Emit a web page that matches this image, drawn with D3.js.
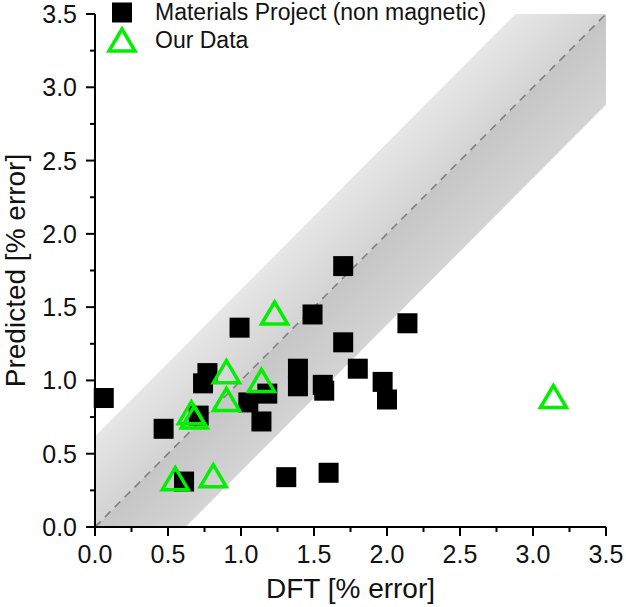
<!DOCTYPE html>
<html><head><meta charset="utf-8">
<script src="https://cdn.jsdelivr.net/npm/d3@7"></script>
<style>body{margin:0;background:#fff}svg{display:block}text{font-family:Arial,"Liberation Sans",sans-serif;fill:#111}</style>
</head><body>
<script>
const mpX = [0.06,0.47,0.61,0.71,0.74,0.77,0.99,1.05,1.18,1.14,1.31,1.39,1.39,1.49,1.56,1.57,1.60,1.70,1.70,1.80,1.97,2.00,2.14];
const mpY = [0.88,0.67,0.31,0.76,0.98,1.05,1.36,0.85,0.91,0.72,0.34,1.08,0.96,1.45,0.97,0.93,0.37,1.78,1.26,1.08,0.99,0.87,1.39];
const ourX = [1.23,0.90,1.14,0.90,0.66,0.68,0.55,0.81,3.14];
const ourY = [1.46,1.06,1.00,0.87,0.78,0.75,0.33,0.35,0.89];
const tickVals = [0,0.5,1.0,1.5,2.0,2.5,3.0,3.5];
const minorVals = [0.25,0.75,1.25,1.75,2.25,2.75,3.25];
const bandHalf = 0.62;
const seriesNames = ["Materials Project (non magnetic)","Our Data"];

const W=626,H=607, L=95,R=606,T=14,B=527;
const svg=d3.select("body").append("svg").attr("width",W).attr("height",H);
const x=d3.scaleLinear().domain([0,3.5]).range([L,R]);
const y=d3.scaleLinear().domain([0,3.5]).range([B,T]);
const defs=svg.append("defs");
defs.append("clipPath").attr("id","clip").append("rect").attr("x",L).attr("y",T).attr("width",R-L).attr("height",B-T);

const gU=defs.append("linearGradient").attr("id","gU").attr("gradientUnits","userSpaceOnUse")
  .attr("x1",x(0)).attr("y1",y(bandHalf)).attr("x2",x(bandHalf/2)).attr("y2",y(bandHalf/2));
gU.append("stop").attr("offset",0).attr("stop-color","#e6e6e6");
gU.append("stop").attr("offset",1).attr("stop-color","#d3d3d3");
const gD=defs.append("linearGradient").attr("id","gD").attr("gradientUnits","userSpaceOnUse")
  .attr("x1",x(bandHalf/2)).attr("y1",y(bandHalf/2)).attr("x2",x(bandHalf)).attr("y2",y(0));
gD.append("stop").attr("offset",0).attr("stop-color","#c6c6c6");
gD.append("stop").attr("offset",1).attr("stop-color","#d4d4d4");

const g=svg.append("g").attr("clip-path","url(#clip)");
const lo=-1, hi=5;
const line=d3.line().x(d=>x(d[0])).y(d=>y(d[1]));
g.append("path").attr("d",line([[lo,lo],[hi,hi],[hi,hi+bandHalf],[lo,lo+bandHalf]])+"Z").attr("fill","url(#gU)");
g.append("path").attr("d",line([[lo,lo],[hi,hi],[hi,hi-bandHalf],[lo,lo-bandHalf]])+"Z").attr("fill","url(#gD)");
g.append("path").attr("d",line([[0,0],[3.5,3.5]])).attr("stroke","#808080").attr("stroke-width",1.6).attr("stroke-dasharray","8,6").attr("fill","none");

const ax=svg.append("g");
ax.append("line").attr("x1",L).attr("x2",R).attr("y1",B).attr("y2",B).attr("stroke","#000").attr("stroke-width",2);
ax.append("line").attr("x1",L).attr("x2",L).attr("y1",T).attr("y2",B).attr("stroke","#000").attr("stroke-width",2);
tickVals.forEach(v=>{
  ax.append("line").attr("x1",x(v)).attr("x2",x(v)).attr("y1",B).attr("y2",B+9).attr("stroke","#000").attr("stroke-width",2);
  ax.append("line").attr("x1",L-9).attr("x2",L).attr("y1",y(v)).attr("y2",y(v)).attr("stroke","#000").attr("stroke-width",2);
  ax.append("text").attr("x",x(v)).attr("y",563).attr("text-anchor","middle").attr("font-size",25).text(v.toFixed(1));
  ax.append("text").attr("x",77).attr("y",y(v)+9).attr("text-anchor","end").attr("font-size",25).text(v.toFixed(1));
});
minorVals.forEach(v=>{
  ax.append("line").attr("x1",x(v)).attr("x2",x(v)).attr("y1",B).attr("y2",B+5).attr("stroke","#000").attr("stroke-width",2);
  ax.append("line").attr("x1",L-5).attr("x2",L).attr("y1",y(v)).attr("y2",y(v)).attr("stroke","#000").attr("stroke-width",2);
});
svg.append("text").attr("x",(L+R)/2).attr("y",598).attr("text-anchor","middle").attr("font-size",28).text("DFT [% error]");
svg.append("text").attr("transform",`translate(25,${(T+B)/2}) rotate(-90)`).attr("text-anchor","middle").attr("font-size",28).text("Predicted [% error]");

const sq=20, tw=26, th=22;
const tri=`M0,${-th/2}L${tw/2},${th/2}L${-tw/2},${th/2}Z`;
svg.append("g").selectAll("rect").data(d3.range(mpX.length)).join("rect")
  .attr("x",i=>x(mpX[i])-sq/2).attr("y",i=>y(mpY[i])-sq/2).attr("width",sq).attr("height",sq).attr("fill","#000");
svg.append("g").selectAll("path").data(d3.range(ourX.length)).join("path")
  .attr("transform",i=>`translate(${x(ourX[i])},${y(ourY[i])})`).attr("d",tri)
  .attr("fill","none").attr("stroke","#00f000").attr("stroke-width",3.5).attr("stroke-linejoin","miter");

const lg=svg.append("g");
lg.append("rect").attr("x",122-sq/2).attr("y",12.5-sq/2).attr("width",sq).attr("height",sq).attr("fill","#000");
lg.append("path").attr("transform","translate(122,40)").attr("d",tri).attr("fill","none").attr("stroke","#00f000").attr("stroke-width",3.5);
lg.append("text").attr("x",155).attr("y",20).attr("font-size",23).text(seriesNames[0]);
lg.append("text").attr("x",155).attr("y",48).attr("font-size",23).text(seriesNames[1]);
</script>
</body></html>
